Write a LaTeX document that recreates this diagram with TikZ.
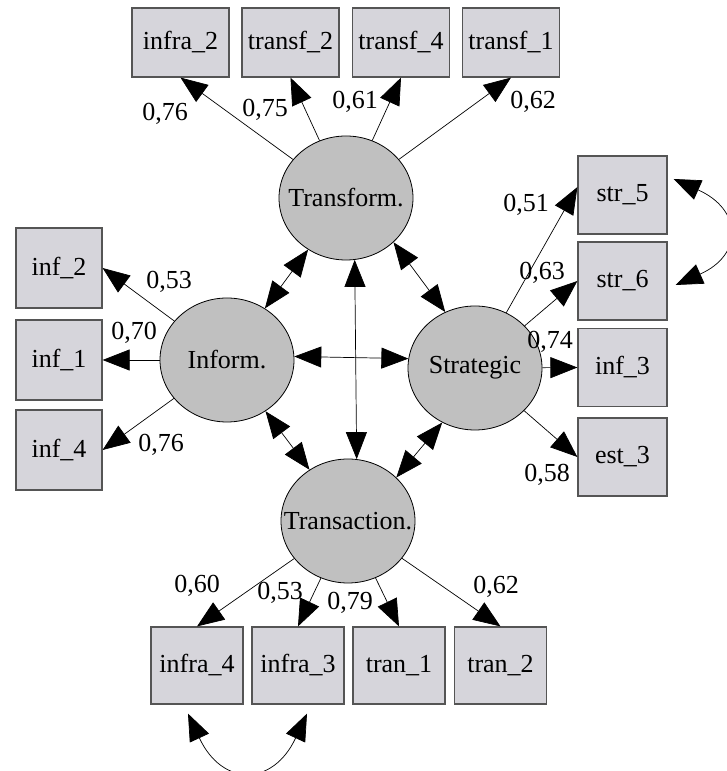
\documentclass[tikz,border=0pt]{standalone}
\usepackage{fontspec}
\setmainfont{Liberation Serif}
\usetikzlibrary{arrows.meta,shapes.geometric}
\definecolor{boxfill}{RGB}{214,213,219}
\definecolor{boxline}{RGB}{85,85,85}
\definecolor{latfill}{RGB}{192,192,192}

\begin{document}
\begin{tikzpicture}[x=1pt,y=1pt,
    every node/.style={font=\fontsize{26}{30}\selectfont},
    latent/.style={ellipse,draw,fill=latfill,line width=0.8pt,inner sep=0pt,
      minimum width=134pt,minimum height=124pt},
    obs/.style={rectangle,draw=boxline,fill=boxfill,line width=1.2pt,inner sep=0pt},
    topobs/.style={obs,minimum width=97pt,minimum height=69pt},
    leftobs/.style={obs,minimum width=86pt,minimum height=80pt},
    rightobs/.style={obs,minimum width=89pt,minimum height=78pt},
    botobs/.style={obs,minimum width=92pt,minimum height=77pt},
    coef/.style={inner sep=0pt,text depth=0pt},
    load/.style={-{Triangle[length=27pt,width=21pt]},line width=0.7pt},
    cov/.style={{Triangle[length=27pt,width=21pt]}-{Triangle[length=27pt,width=21pt]},line width=0.7pt}]
  \useasboundingbox (0,0) rectangle (726,771);

  % latent variables
  \node[latent] (T) at (346,573) {\makebox[0pt]{Transform.}};
  \node[latent] (I) at (227,411) {\makebox[0pt]{Inform.}};
  \node[latent] (S) at (475,403) {\makebox[0pt]{Strategic}};
  \node[latent] (Tr) at (348,250) {\makebox[0pt]{Transaction.}};

  % indicators
  \node[topobs] (infra2) at (180.5,728.5) {infra\_2};
  \node[topobs] (transf2) at (290.5,728.5) {transf\_2};
  \node[topobs] (transf4) at (401,728.5) {transf\_4};
  \node[topobs] (transf1) at (511,728.5) {transf\_1};

  \node[leftobs] (inf2) at (59,503) {inf\_2};
  \node[leftobs] (inf1) at (59,411) {inf\_1};
  \node[leftobs] (inf4) at (59,321) {inf\_4};

  \node[rightobs] (str5) at (622.5,576) {str\_5};
  \node[rightobs] (str6) at (622.5,490) {str\_6};
  \node[rightobs] (inf3) at (622.5,403.5) {inf\_3};
  \node[rightobs] (est3) at (622.5,314) {est\_3};

  \node[botobs] (infra4) at (197,105.5) {infra\_4};
  \node[botobs] (infra3) at (298,105.5) {infra\_3};
  \node[botobs] (tran1) at (399,105.5) {tran\_1};
  \node[botobs] (tran2) at (500.5,105.5) {tran\_2};

  % loadings
  \draw[load] (T) -- (infra2.south);
  \draw[load] (T) -- (transf2.south);
  \draw[load] (T) -- (transf4.south);
  \draw[load] (T) -- (transf1.south);

  \draw[load] (I) -- (inf2.east);
  \draw[load] (I) -- (inf1.east);
  \draw[load] (I) -- (inf4.east);

  \draw[load] (S) -- (str5.170);
  \draw[load] (S) -- (str6.west);
  \draw[load] (S) -- (inf3.west);
  \draw[load] (S) -- (est3.west);

  \draw[load] (Tr) -- (infra4.north);
  \draw[load] (Tr) -- (infra3.north);
  \draw[load] (Tr) -- (tran1.north);
  \draw[load] (Tr) -- (tran2.north);

  % coefficients
  \node[coef] (c1) at (165,659) {0,76};
  \node[coef] (c2) at (265,663) {0,75};
  \node[coef] (c3) at (355,671) {0,61};
  \node[coef] (c4) at (533,671) {0,62};
  \node[coef] (c5) at (169,491) {0,53};
  \node[coef] (c6) at (134,440) {0,70};
  \node[coef] (c7) at (161,328) {0,76};
  \node[coef] (c8) at (526,568) {0,51};
  \node[coef] (c9) at (542,500) {0,63};
  \node[coef] (c10) at (550,431) {0,74};
  \node[coef] (c11) at (547,298) {0,58};
  \node[coef] (c12) at (197,187) {0,60};
  \node[coef] (c13) at (280,180) {0,53};
  \node[coef] (c14) at (350,170) {0,79};
  \node[coef] (c15) at (496,186) {0,62};

  % correlations
  \draw[cov] (T) -- (I);
  \draw[cov] (T.-43) -- (S.118);
  \draw[cov] (T.-82) -- (Tr.82);
  \draw[cov] (I.3) -- (S.172);
  \draw[cov] (I) -- (Tr);
  \draw[cov] (S.-121) -- (Tr.42);

  % error covariances
  \draw[cov] ([shift={(6pt,16pt)}]str5.east) to[out=-24,in=24,looseness=1.8]
    ([shift={(8pt,-4pt)}]str6.east);
  \draw[cov] ([shift={(-9pt,-9pt)}]infra4.south) to[out=-65,in=-115,looseness=1.74]
    ([shift={(9pt,-9pt)}]infra3.south);
\end{tikzpicture}
\end{document}
